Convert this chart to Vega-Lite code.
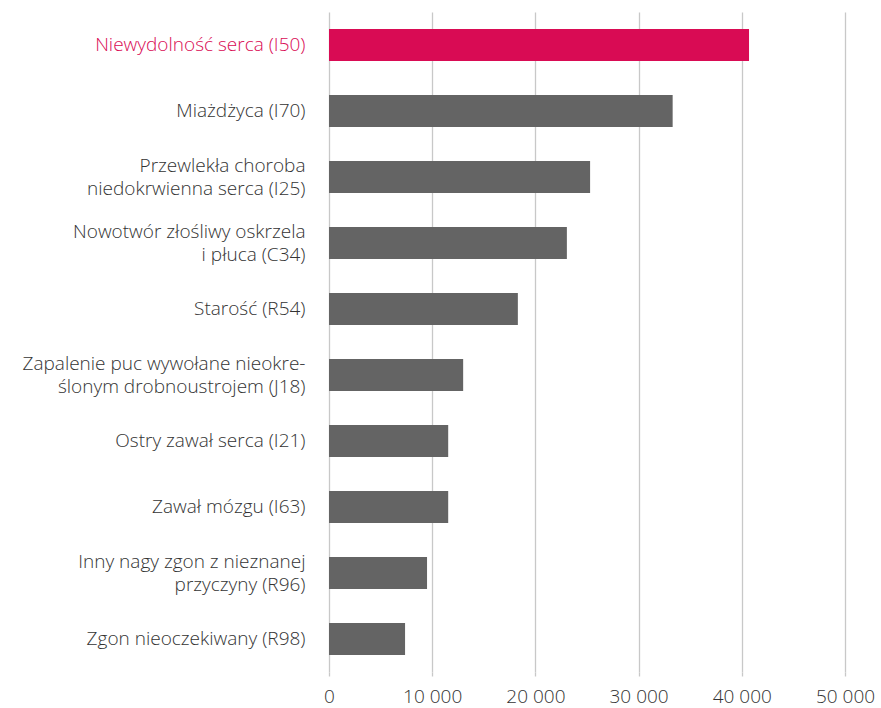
{
  "$schema": "https://vega.github.io/schema/vega-lite/v6.json",
  "width": 516,
  "height": 660,
  "autosize": {"type": "none"},
  "padding": {"left": 329, "top": 12, "right": 36, "bottom": 36},
  "background": "white",
  "config": {
    "view": {"stroke": null},
    "font": "Open Sans"
  },
  "data": {
    "values": [
      {"cause": "Niewydolność serca (I50)", "deaths": 40700},
      {"cause": "Miażdżyca (I70)", "deaths": 33300},
      {"cause": "Przewlekła choroba\nniedokrwienna serca (I25)", "deaths": 25300},
      {"cause": "Nowotwór złośliwy oskrzela\ni płuca (C34)", "deaths": 23050},
      {"cause": "Starość (R54)", "deaths": 18300},
      {"cause": "Zapalenie puc wywołane nieokre-\nślonym drobnoustrojem (J18)", "deaths": 13000},
      {"cause": "Ostry zawał serca (I21)", "deaths": 11550},
      {"cause": "Zawał mózgu (I63)", "deaths": 11550},
      {"cause": "Inny nagy zgon z nieznanej\nprzyczyny (R96)", "deaths": 9500},
      {"cause": "Zgon nieoczekiwany (R98)", "deaths": 7370}
    ]
  },
  "mark": {"type": "bar"},
  "encoding": {
    "y": {
      "field": "cause",
      "type": "nominal",
      "sort": null,
      "scale": {"paddingInner": 0.515, "paddingOuter": 0.2575},
      "axis": {
        "title": null,
        "domain": false,
        "ticks": false,
        "labelExpr": "split(datum.label, '\\n')",
        "labelAlign": "right",
        "labelBaseline": "middle",
        "labelPadding": 24,
        "labelFontSize": 19,
        "labelFontWeight": 300,
        "labelLineHeight": 23,
        "labelLimit": 400,
        "labelOffset": {"condition": {"test": "indexof(datum.value, '\\n') >= 0", "value": -11.5}, "value": 0},
        "labelColor": {"condition": {"test": "datum.value === 'Niewydolność serca (I50)'", "value": "#d90b54"}, "value": "#333333"}
      }
    },
    "x": {
      "field": "deaths",
      "type": "quantitative",
      "scale": {"domain": [0, 50000], "nice": false, "zero": true},
      "axis": {
        "title": null,
        "values": [0, 10000, 20000, 30000, 40000, 50000],
        "labelExpr": "replace(format(datum.value, ','), ',', ' ')",
        "domain": false,
        "grid": true,
        "gridColor": "#c8c8c8",
        "gridWidth": 1.3,
        "ticks": true,
        "tickColor": "#c8c8c8",
        "tickWidth": 1.3,
        "tickSize": 4,
        "labelFontSize": 19,
        "labelFontWeight": 300,
        "labelColor": "#333333",
        "labelPadding": 11,
        "labelFlush": false
      }
    },
    "color": {
      "condition": {"test": "datum.cause === 'Niewydolność serca (I50)'", "value": "#d90b54"},
      "value": "#646464"
    }
  }
}
